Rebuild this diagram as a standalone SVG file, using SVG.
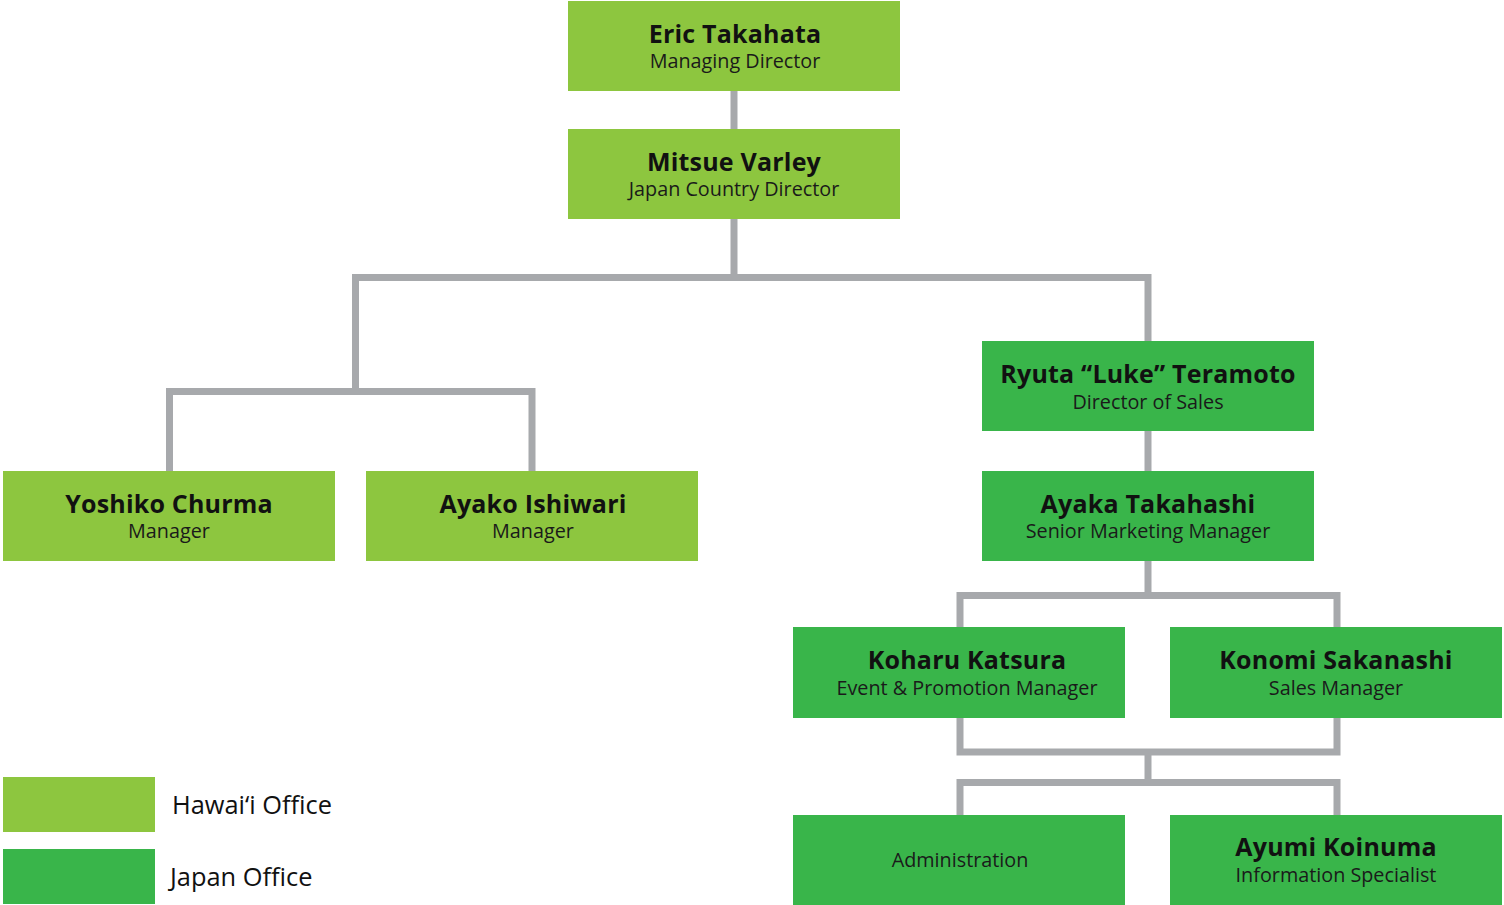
<svg xmlns="http://www.w3.org/2000/svg" width="1504" height="905" viewBox="0 0 1504 905">
<style>
.hi{fill:#8dc63f}
.jp{fill:#39b54a}
.nm{font-family:"Open Sans","Noto Sans",sans-serif;font-weight:700;font-size:25px;letter-spacing:0.2px;fill:#111;text-anchor:middle}
.tt{font-family:"Open Sans","Noto Sans",sans-serif;font-weight:400;font-size:19.8px;fill:#1a1a1a;text-anchor:middle}
.lg{font-family:"Open Sans","Noto Sans",sans-serif;font-weight:400;font-size:25.4px;fill:#111}
.cn{fill:none;stroke:#a7a9ac;stroke-width:7;stroke-linejoin:miter;stroke-linecap:butt}
</style>
<rect width="1504" height="905" fill="#fff"/>
<g id="connectors">
<path class="cn" d="M734,91V129"/>
<path class="cn" d="M734,219V277.5"/>
<path class="cn" d="M1148,341V277.5H355.5V391.5"/>
<path class="cn" d="M169.5,471V391.5H532V471"/>
<path class="cn" d="M1148,431V471"/>
<path class="cn" d="M1148,561V595.5"/>
<path class="cn" d="M960,627V595.5H1337V627"/>
<path class="cn" d="M960,718V752H1337V718"/>
<path class="cn" d="M1148,752V782.5"/>
<path class="cn" d="M960,815V782.5H1337V815"/>
</g>
<g id="eric">
<rect class="hi" x="568" y="1" width="332" height="90"/>
<text class="nm" x="735" y="43">Eric Takahata</text>
<text class="tt" x="735" y="68">Managing Director</text>
</g>
<g id="mitsue">
<rect class="hi" x="568" y="129" width="332" height="90"/>
<text class="nm" x="734" y="171">Mitsue Varley</text>
<text class="tt" x="734" y="196">Japan Country Director</text>
</g>
<g id="yoshiko">
<rect class="hi" x="3" y="471" width="332" height="90"/>
<text class="nm" x="169" y="513">Yoshiko Churma</text>
<text class="tt" x="169" y="538">Manager</text>
</g>
<g id="ayako">
<rect class="hi" x="366" y="471" width="332" height="90"/>
<text class="nm" x="533" y="513">Ayako Ishiwari</text>
<text class="tt" x="533" y="538">Manager</text>
</g>
<g id="ryuta">
<rect class="jp" x="982" y="341" width="332" height="90"/>
<text class="nm" x="1148" y="383">Ryuta “Luke” Teramoto</text>
<text class="tt" x="1148" y="409">Director of Sales</text>
</g>
<g id="ayaka">
<rect class="jp" x="982" y="471" width="332" height="90"/>
<text class="nm" x="1148" y="513">Ayaka Takahashi</text>
<text class="tt" x="1148" y="538">Senior Marketing Manager</text>
</g>
<g id="koharu">
<rect class="jp" x="793" y="627" width="332" height="91"/>
<text class="nm" x="967" y="669">Koharu Katsura</text>
<text class="tt" x="967" y="695">Event &amp; Promotion Manager</text>
</g>
<g id="konomi">
<rect class="jp" x="1170" y="627" width="332" height="91"/>
<text class="nm" x="1336" y="669">Konomi Sakanashi</text>
<text class="tt" x="1336" y="695">Sales Manager</text>
</g>
<g id="admin">
<rect class="jp" x="793" y="815" width="332" height="90"/>
<text class="tt" x="960" y="867">Administration</text>
</g>
<g id="ayumi">
<rect class="jp" x="1170" y="815" width="332" height="90"/>
<text class="nm" x="1336" y="856">Ayumi Koinuma</text>
<text class="tt" x="1336" y="882">Information Specialist</text>
</g>
<g id="legend">
<rect class="hi" x="3" y="777" width="152" height="55"/>
<text class="lg" x="172" y="814">Hawai‘i Office</text>
<rect class="jp" x="3" y="849" width="152" height="55"/>
<text class="lg" x="170" y="886">Japan Office</text>
</g>
</svg>
